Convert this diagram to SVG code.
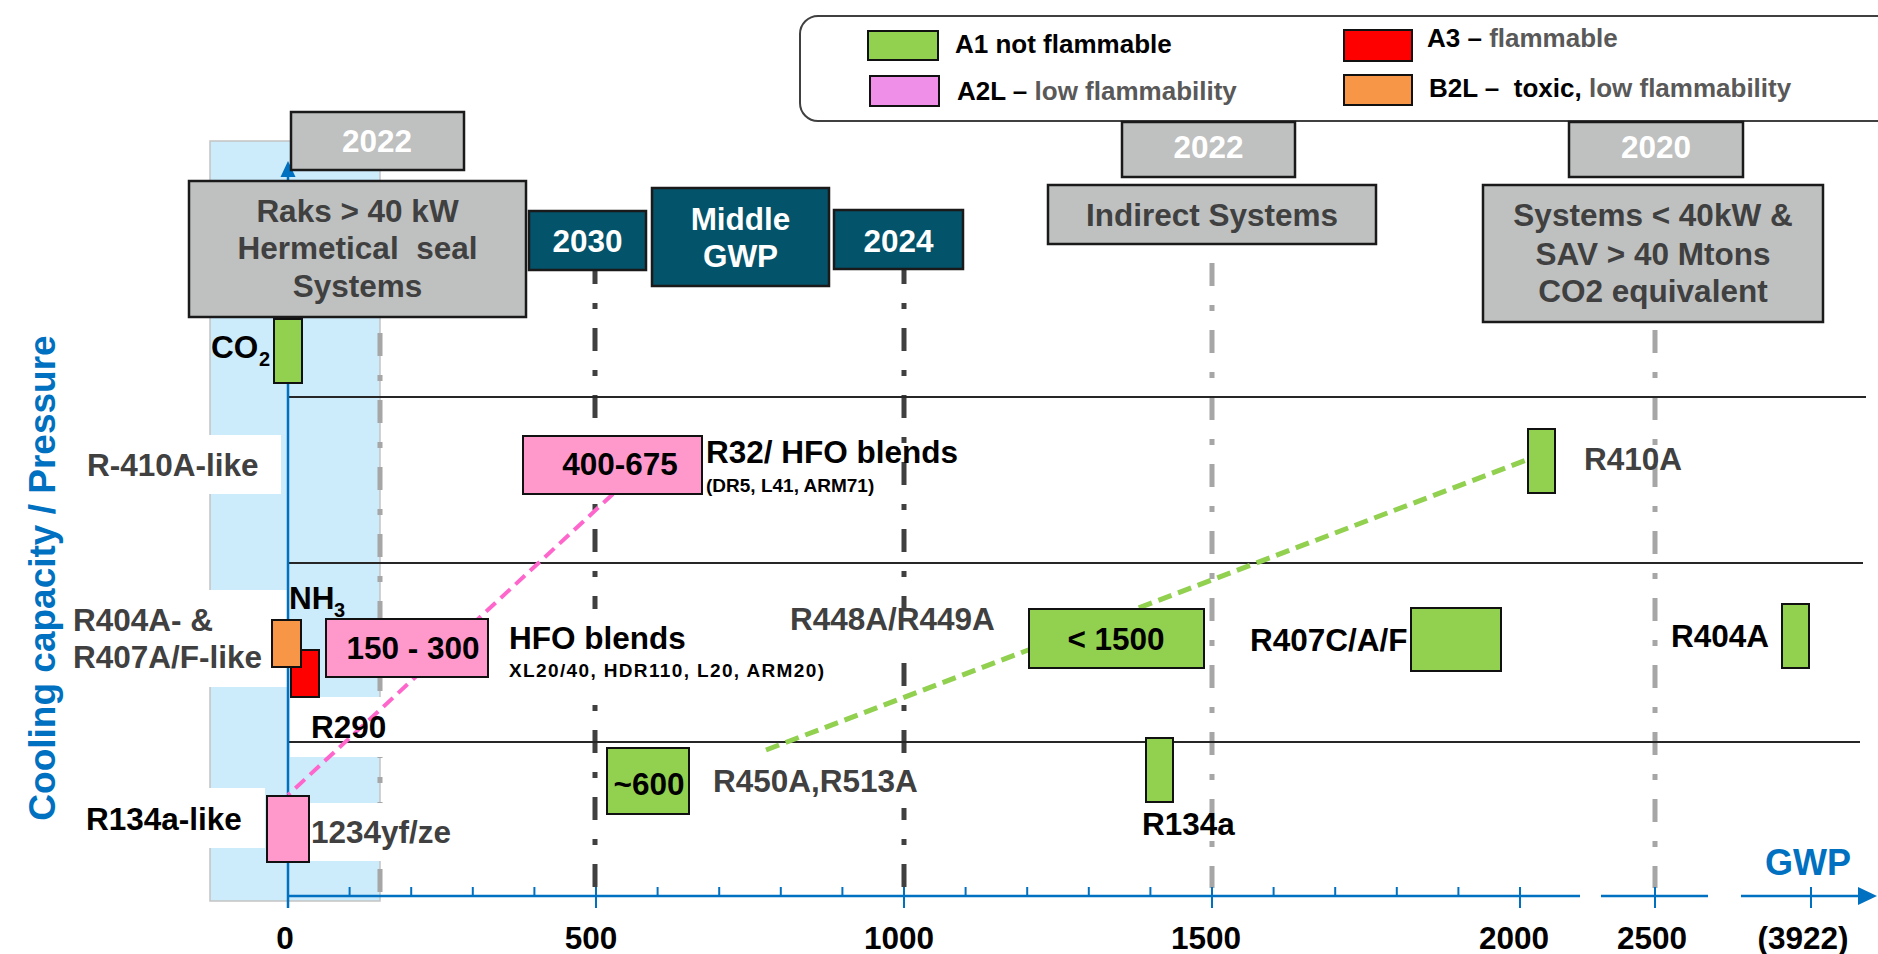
<svg xmlns="http://www.w3.org/2000/svg" width="1878" height="954" viewBox="0 0 1878 954">
<defs>
<linearGradient id="topg" x1="0" y1="0" x2="1" y2="0">
<stop offset="0" stop-color="#a9c6e6"/>
<stop offset="0.4" stop-color="#3f7fc0"/>
<stop offset="1" stop-color="#1a5a9e"/>
</linearGradient>
</defs>
<style>
.t{font-family:"Liberation Sans",Arial,Helvetica,sans-serif;font-weight:bold}
.f{font-size:31.5px}
.s{font-size:19px}
.sub{font-size:20px}
.lg{font-size:26px}
.m{text-anchor:middle}
.gy{fill:#404040}
.lgy{fill:#595959}
.bk{fill:#000}
.wh{fill:#fff}
.gbox{fill:#BFC0C0;stroke:#1a1a1a;stroke-width:2.5}
.tbox{fill:#03536A;stroke:#1a1a1a;stroke-width:2.5}
.A1{fill:#92D050;stroke:#111;stroke-width:2}
.A2L{fill:#FF99CC;stroke:#111;stroke-width:2}
.A3{fill:#FF0000;stroke:#111;stroke-width:2}
.B2L{fill:#F79646;stroke:#111;stroke-width:2}
.hl{stroke:#262626;stroke-width:2}
.dd{stroke:#404040;stroke-width:5;stroke-dasharray:23 19 6 19}
.ld{stroke:#A6A6A6;stroke-width:5;stroke-dasharray:23 19 6 19}
.ax{stroke:#0070C0;stroke-width:2.5;fill:none}
.tk{stroke:#0070C0;stroke-width:2}
.bg{fill:#fff}
</style>

<line x1="0" y1="5" x2="1878" y2="5" stroke="url(#topg)" stroke-width="3"/>

<g id="legend">
<rect x="800" y="16" width="1120" height="105" rx="18" fill="#fff" stroke="#404040" stroke-width="2"/>
<rect x="868" y="31" width="70" height="29" class="A1"/>
<text x="955" y="53" class="t lg bk">A1 not flammable</text>
<rect x="870" y="76" width="69" height="30" fill="#EF8FE7" stroke="#111" stroke-width="2"/>
<text x="957" y="100" class="t lg bk" xml:space="preserve">A2L – <tspan class="lgy">low flammability</tspan></text>
<rect x="1344" y="30" width="68" height="31" class="A3"/>
<text x="1427" y="47" class="t lg bk" xml:space="preserve">A3 – <tspan class="lgy">flammable</tspan></text>
<rect x="1344" y="75" width="68" height="30" class="B2L"/>
<text x="1429" y="97" class="t lg bk" xml:space="preserve">B2L –  toxic, <tspan class="lgy">low flammability</tspan></text>
</g>

<g id="band">
<rect x="210" y="141" width="170" height="760" fill="#CCEBFB" stroke="#C4C4C4" stroke-width="1.5"/>
</g>

<g id="grid-vertical">
<line x1="595" y1="261" x2="595" y2="887" class="dd"/>
<line x1="904" y1="261" x2="904" y2="887" class="dd"/>
<line x1="1212" y1="263" x2="1212" y2="888" class="ld"/>
<line x1="1655" y1="330" x2="1655" y2="888" class="ld"/>
<line x1="380" y1="333" x2="380" y2="892" class="ld"/>
</g>

<g id="label-backgrounds">
<rect x="60" y="435" width="221" height="59" class="bg"/>
<rect x="50" y="590" width="238" height="97" class="bg"/>
<rect x="290" y="697" width="96" height="60" class="bg"/>
<rect x="60" y="788" width="205" height="60" class="bg"/>
<rect x="309" y="803" width="80" height="58" class="bg"/>
<rect x="786" y="609" width="212" height="36" class="bg"/>
<rect x="505" y="609" width="322" height="81" class="bg"/>
<rect x="708" y="756" width="214" height="52" class="bg"/>
</g>

<g id="grid-horizontal">
<line x1="288" y1="397" x2="1866" y2="397" class="hl"/>
<line x1="288" y1="563" x2="1863" y2="563" class="hl"/>
<line x1="288" y1="742" x2="1860" y2="742" class="hl"/>
</g>

<g id="axes">
<line x1="288" y1="908" x2="288" y2="175" class="ax"/>
<polygon points="288,161 280.5,177 295.5,177" fill="#0070C0"/>
<line x1="288" y1="896" x2="1580" y2="896" class="ax"/>
<line x1="1601" y1="896" x2="1708" y2="896" class="ax"/>
<line x1="1741" y1="896" x2="1860" y2="896" class="ax"/>
<polygon points="1877,896 1858,887 1858,905" fill="#0070C0"/>
<g class="tk">
<line x1="288" y1="887" x2="288" y2="908"/>
<line x1="596" y1="887" x2="596" y2="908"/>
<line x1="904" y1="887" x2="904" y2="908"/>
<line x1="1212" y1="887" x2="1212" y2="908"/>
<line x1="1520" y1="887" x2="1520" y2="908"/>
<line x1="1655" y1="887" x2="1655" y2="908"/>
<line x1="1811" y1="887" x2="1811" y2="908"/>
<line x1="349.6" y1="887" x2="349.6" y2="896"/>
<line x1="411.2" y1="887" x2="411.2" y2="896"/>
<line x1="472.8" y1="887" x2="472.8" y2="896"/>
<line x1="534.4" y1="887" x2="534.4" y2="896"/>
<line x1="657.6" y1="887" x2="657.6" y2="896"/>
<line x1="719.2" y1="887" x2="719.2" y2="896"/>
<line x1="780.8" y1="887" x2="780.8" y2="896"/>
<line x1="842.4" y1="887" x2="842.4" y2="896"/>
<line x1="965.6" y1="887" x2="965.6" y2="896"/>
<line x1="1027.2" y1="887" x2="1027.2" y2="896"/>
<line x1="1088.8" y1="887" x2="1088.8" y2="896"/>
<line x1="1150.4" y1="887" x2="1150.4" y2="896"/>
<line x1="1273.6" y1="887" x2="1273.6" y2="896"/>
<line x1="1335.2" y1="887" x2="1335.2" y2="896"/>
<line x1="1396.8" y1="887" x2="1396.8" y2="896"/>
<line x1="1458.4" y1="887" x2="1458.4" y2="896"/>
</g>
<g class="t f bk m">
<text x="285" y="949">0</text>
<text x="591" y="949">500</text>
<text x="899" y="949">1000</text>
<text x="1206" y="949">1500</text>
<text x="1514" y="949">2000</text>
<text x="1652" y="949">2500</text>
<text x="1803" y="949">(3922)</text>
</g>
<text x="1808" y="875" class="t m" font-size="36" fill="#0070C0">GWP</text>
<text x="55" y="578" class="t m" font-size="37" fill="#0070C0" transform="rotate(-90 55 578)">Cooling capacity / Pressure</text>
</g>

<g id="connectors">
<line x1="613" y1="494" x2="288" y2="795" stroke="#FF66CC" stroke-width="4" stroke-dasharray="13 7"/>
<line x1="766" y1="750" x2="1529" y2="459" stroke="#92D050" stroke-width="5" stroke-dasharray="14 7"/>
</g>

<g id="box-2022-left"><rect x="291" y="112" width="173" height="58" class="gbox"/><text x="377" y="152" class="t f m wh">2022</text></g>
<g id="box-raks"><rect x="189" y="181" width="337" height="136" class="gbox"/>
<text class="t f m gy" xml:space="preserve"><tspan x="357.5" y="222">Raks &gt; 40 kW</tspan><tspan x="357.5" y="259">Hermetical  seal</tspan><tspan x="357.5" y="297">Systems</tspan></text></g>
<g id="box-2030"><rect x="529" y="211" width="117" height="59" class="tbox"/><text x="587.5" y="252" class="t f m wh">2030</text></g>
<g id="box-middle"><rect x="652" y="188" width="177" height="98" class="tbox"/><text class="t f m wh"><tspan x="740.5" y="230">Middle</tspan><tspan x="740.5" y="267">GWP</tspan></text></g>
<g id="box-2024"><rect x="834" y="210" width="129" height="59" class="tbox"/><text x="898.5" y="252" class="t f m wh">2024</text></g>
<g id="box-2022-right"><rect x="1122" y="122" width="173" height="55" class="gbox"/><text x="1208.5" y="158" class="t f m wh">2022</text></g>
<g id="box-indirect"><rect x="1048" y="185" width="328" height="59" class="gbox"/><text x="1212" y="226" class="t f m gy">Indirect Systems</text></g>
<g id="box-2020"><rect x="1569" y="122" width="174" height="55" class="gbox"/><text x="1656" y="158" class="t f m wh">2020</text></g>
<g id="box-systems"><rect x="1483" y="185" width="340" height="137" class="gbox"/>
<text class="t f m gy"><tspan x="1653" y="226">Systems &lt; 40kW &amp;</tspan><tspan x="1653" y="265">SAV &gt; 40 Mtons</tspan><tspan x="1653" y="302">CO2 equivalent</tspan></text></g>

<g id="co2"><rect x="274" y="319" width="28" height="64" class="A1"/><text x="211" y="358" class="t f bk">CO</text><text x="259" y="366" class="t sub bk">2</text></g>
<g id="r410a-like"><text x="87" y="476" class="t f gy">R-410A-like</text></g>
<g id="r32-blends"><rect x="523" y="436" width="179" height="58" class="A2L"/><text x="620" y="475" class="t f m bk">400-675</text>
<text x="706" y="463" class="t f bk">R32/ HFO blends</text><text x="706" y="492" class="t s bk">(DR5, L41, ARM71)</text></g>
<g id="r410a"><rect x="1528" y="429" width="27" height="64" class="A1"/><text x="1584" y="470" class="t f gy">R410A</text></g>
<g id="r404a-like"><text class="t f gy"><tspan x="73" y="631">R404A- &amp;</tspan><tspan x="73" y="668">R407A/F-like</tspan></text></g>
<g id="r290"><rect x="291" y="650" width="28" height="47" class="A3"/><text x="311" y="738" class="t f bk">R290</text></g>
<g id="nh3"><rect x="272" y="620" width="29" height="47" class="B2L"/><text x="289" y="609" class="t f bk">NH</text><text x="334" y="617" class="t sub bk">3</text></g>
<g id="hfo-blends"><rect x="326" y="619" width="162" height="58" class="A2L"/><text x="413" y="659" class="t f m bk">150 - 300</text>
<text x="509" y="649" class="t f bk">HFO blends</text><text x="509" y="677" class="t s bk" textLength="315" lengthAdjust="spacing">XL20/40, HDR110, L20, ARM20)</text></g>
<g id="r448a"><text x="790" y="630" class="t f gy">R448A/R449A</text></g>
<g id="lt1500"><rect x="1029" y="609" width="175" height="59" class="A1"/><text x="1116" y="650" class="t f m bk">&lt; 1500</text></g>
<g id="r407c"><text x="1250" y="651" class="t f bk">R407C/A/F</text><rect x="1411" y="608" width="90" height="63" class="A1"/></g>
<g id="r404a"><text x="1671" y="647" class="t f bk">R404A</text><rect x="1782" y="604" width="27" height="64" class="A1"/></g>
<g id="r450a"><rect x="607" y="748" width="82" height="66" class="A1"/><text x="649" y="795" class="t f m bk">~600</text><text x="713" y="792" class="t f gy">R450A,R513A</text></g>
<g id="r134a"><rect x="1146" y="738" width="27" height="64" class="A1"/><text x="1142" y="835" class="t f bk">R134a</text></g>
<g id="r134a-like"><text x="86" y="830" class="t f bk">R134a-like</text><rect x="267" y="796" width="42" height="66" class="A2L"/><text x="311" y="843" class="t f gy">1234yf/ze</text></g>
</svg>
